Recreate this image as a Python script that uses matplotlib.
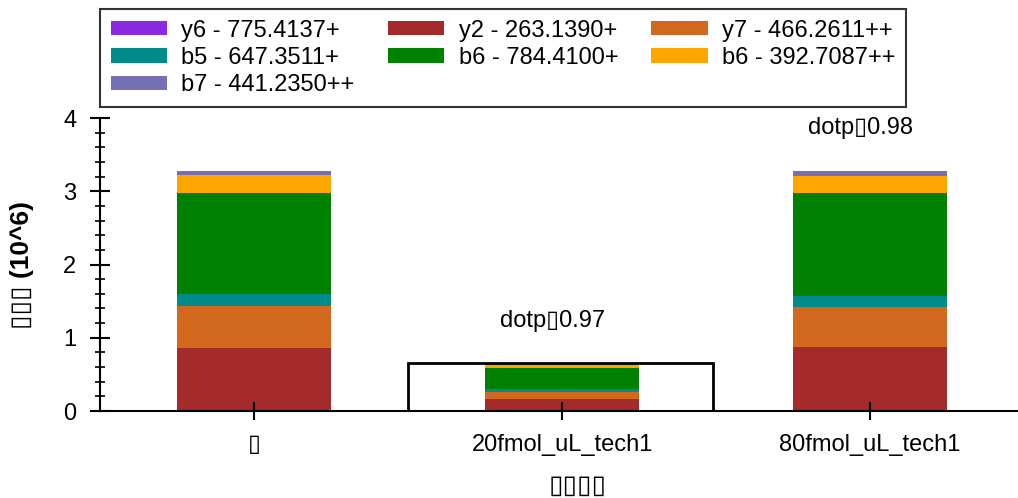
import matplotlib
matplotlib.use("Agg")
import matplotlib.pyplot as plt
from matplotlib.patches import Rectangle
import numpy as np

plt.rcParams["font.family"] = ["Liberation Sans", "DejaVu Sans"]

# replicates (first one is the library spectrum, its name shows as a missing glyph)
replicates = ["\u25af", "20fmol_uL_tech1", "80fmol_uL_tech1"]
dotp_labels = ["", "dotp\u25af0.97", "dotp\u25af0.98"]

ion_names = ["y6 - 775.4137+", "y2 - 263.1390+", "y7 - 466.2611++", "b5 - 647.3511+",
             "b6 - 784.4100+", "b6 - 392.7087++", "b7 - 441.2350++"]
ion_colors = ["#8a2be2", "#a52a2a", "#d2691e", "#008b8b", "#008000", "#ffa500", "#7570b3"]

# peak areas, 10^6
y6 = [0.020, 0.005, 0.010]
y2 = [0.845, 0.160, 0.868]
y7 = [0.574, 0.095, 0.546]
b5 = [0.159, 0.041, 0.150]
b6_1 = [1.379, 0.291, 1.406]
b6_2 = [0.246, 0.041, 0.232]
b7 = [0.055, 0.013, 0.065]

selected = 1

series = [y6, y2, y7, b5, b6_1, b6_2, b7]
x = np.arange(len(replicates))

fig = plt.figure(figsize=(10.18, 4.98), dpi=100)
ax = fig.add_axes([100 / 1018, 1 - 411 / 498, 918 / 1018, 293 / 498])

bottom = np.zeros(len(replicates))
handles = []
for vals, name, col in zip(series, ion_names, ion_colors):
    h = ax.bar(x, vals, 0.5, bottom=bottom, color=col, label=name, linewidth=0)
    handles.append(h)
    bottom = bottom + np.array(vals)

# box round the selected replicate
ax.add_patch(Rectangle((selected - 0.5, 0), 0.99, bottom[selected] + 0.006,
                       fill=False, edgecolor="black", linewidth=2, zorder=3))

for i, txt in enumerate(dotp_labels):
    if txt:
        ax.text(x[i] - 0.03, bottom[i] + 0.58, txt, ha="center", va="center", fontsize=17)

ax.set_xlim(-0.5, 2.48)
ax.set_ylim(0, 4)
ax.set_yticks([0, 1, 2, 3, 4])
ax.set_yticks(np.arange(0, 4.01, 0.2), minor=True)
ax.set_xticks(x)
ax.set_xticklabels(replicates)

for s in ["top", "right"]:
    ax.spines[s].set_visible(False)
for s in ["left", "bottom"]:
    ax.spines[s].set_linewidth(1.5)

ax.tick_params(axis="x", direction="inout", length=13, width=1.5, labelsize=17, pad=10)
ax.tick_params(axis="y", which="major", direction="inout", length=14, width=1.5, labelsize=17, pad=10)
ax.tick_params(axis="y", which="minor", direction="inout", length=7, width=1.2)

ax.set_ylabel("\u25af\u25af\u25af (10^6)", fontsize=19, fontweight="bold")
ax.yaxis.set_label_coords(-0.072, 0.5)
ax.set_xlabel("\u25af\u25af\u25af\u25af", fontsize=19)
ax.xaxis.set_label_coords(0.52, -0.215)

order = [0, 3, 6, 1, 4, 2, 5]
leg = fig.legend([handles[i] for i in order], [ion_names[i] for i in order],
                 ncol=3, loc="upper left", bbox_to_anchor=(100 / 1018, 1 - 9 / 498),
                 fontsize=17, frameon=True, fancybox=False, borderaxespad=0,
                 handlelength=2.4, handleheight=0.55, handletextpad=0.6,
                 columnspacing=1.4, labelspacing=0.22, borderpad=0.45)
leg.get_frame().set_edgecolor("black")
leg.get_frame().set_linewidth(1.5)

fig.savefig("out.png", dpi=100)
